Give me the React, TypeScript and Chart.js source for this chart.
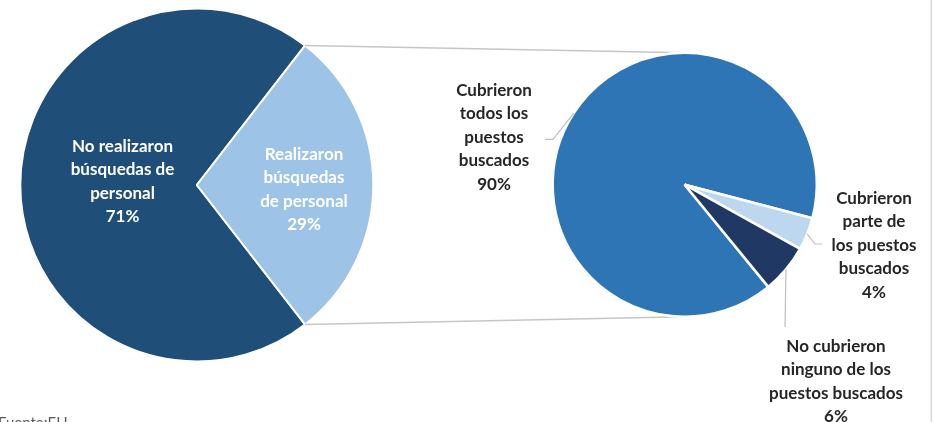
import React, { useEffect, useRef } from "react";
import { Chart, registerables } from "chart.js";

Chart.register(...registerables);

// ---- data ----
const mainCategories = ["No realizaron búsquedas de personal", "Realizaron búsquedas de personal"];
const mainValues = [71, 29];
const mainLabelLines = [
  ["No realizaron", "búsquedas de", "personal"],
  ["Realizaron", "búsquedas", "de personal"],
];
const subCategories = [
  "Cubrieron todos los puestos buscados",
  "Cubrieron parte de los puestos buscados",
  "No cubrieron ninguno de los puestos buscados",
];
const subValues = [90, 4, 6];
const subLabelLines = [
  ["Cubrieron", "todos los", "puestos", "buscados"],
  ["Cubrieron", "parte de", "los puestos", "buscados"],
  ["No cubrieron", "ninguno de los", "puestos buscados"],
];
const sourceText = "Fuente:EH";

// ---- styles / layout ----
const W = 934;
const H = 422;
const mainColors = ["#1F4E79", "#9DC3E6"];
const subColors = ["#2E75B6", "#BDD7EE", "#1F3864"];
const FONT = "bold 17px Lato, 'Open Sans', sans-serif";
const LINE_H = 23.5;
const mainLabelPos = [
  { x: 122.5, y: 151.5 },
  { x: 304, y: 159.5 },
];
const subLabelPos = [
  { x: 494, y: 95.5 },
  { x: 874, y: 203.5 },
  { x: 836, y: 351.7 },
];
// leader elbows and ends
const leaders = [
  [{ x: 553, y: 139.3 }, { x: 545, y: 139.3 }],
  [{ x: 815, y: 244 }, { x: 822, y: 244 }],
  [{ x: 785, y: 327 }],
];

function drawLines(ctx: CanvasRenderingContext2D, lines: string[], cx: number, baseY: number, color: string) {
  ctx.save();
  ctx.font = FONT;
  ctx.fillStyle = color;
  ctx.textAlign = "center";
  ctx.textBaseline = "alphabetic";
  lines.forEach((t, i) => ctx.fillText(t, cx, baseY + i * LINE_H));
  ctx.restore();
}

export default function App() {
  const c1 = useRef<HTMLCanvasElement>(null);
  const c2 = useRef<HTMLCanvasElement>(null);

  useEffect(() => {
    document.body.style.margin = "0";
    let mainChart: Chart | null = null;

    const mainLabelsPlugin = {
      id: "mainLabels",
      afterDraw(chart: any) {
        const ctx = chart.ctx;
        mainValues.forEach((v, i) => {
          const p = mainLabelPos[i];
          drawLines(ctx, [...mainLabelLines[i], `${v}%`], p.x, p.y, "#ffffff");
        });
      },
    };

    mainChart = new Chart(c1.current!, {
      type: "pie",
      data: {
        labels: mainCategories,
        datasets: [
          {
            data: mainValues,
            backgroundColor: mainColors,
            borderColor: "#ffffff",
            borderWidth: 2,
            hoverOffset: 0,
          },
        ],
      },
      options: {
        responsive: false,
        animation: false,
        rotation: 142.2,
        radius: 176.5,
        layout: { padding: { left: 0, top: 0, right: W - 2 * 196.8, bottom: H - 370 } },
        plugins: { legend: { display: false }, tooltip: { enabled: false } },
        events: [],
      } as any,
      plugins: [mainLabelsPlugin],
    });

    const subPlugin = {
      id: "subLabels",
      beforeDraw(chart: any) {
        const ctx: CanvasRenderingContext2D = chart.ctx;
        const mArc: any = mainChart!.getDatasetMeta(0).data[1];
        const sArc: any = chart.getDatasetMeta(0).data[0];
        if (!mArc || !sArc) return;
        const r1 = mArc.outerRadius;
        const p1 = { x: mArc.x + r1 * Math.cos(mArc.startAngle), y: mArc.y + r1 * Math.sin(mArc.startAngle) };
        const p2 = { x: mArc.x + r1 * Math.cos(mArc.endAngle), y: mArc.y + r1 * Math.sin(mArc.endAngle) };
        const r2 = sArc.outerRadius;
        ctx.save();
        ctx.strokeStyle = "#c6c6c6";
        ctx.lineWidth = 1.5;
        ctx.beginPath();
        ctx.moveTo(p1.x, p1.y);
        ctx.lineTo(sArc.x, sArc.y - r2);
        ctx.moveTo(p2.x, p2.y);
        ctx.lineTo(sArc.x, sArc.y + r2);
        ctx.stroke();
        ctx.strokeStyle = "#d9d9d9";
        ctx.lineWidth = 1.5;
        ctx.beginPath();
        ctx.moveTo(931.3, 0);
        ctx.lineTo(931.3, H);
        ctx.stroke();
        ctx.restore();
      },
      afterDraw(chart: any) {
        const ctx: CanvasRenderingContext2D = chart.ctx;
        const arcs: any[] = chart.getDatasetMeta(0).data;
        ctx.save();
        ctx.strokeStyle = "#bfbfbf";
        ctx.lineWidth = 1.2;
        arcs.forEach((a, i) => {
          const mid = (a.startAngle + a.endAngle) / 2;
          const sx = a.x + a.outerRadius * Math.cos(mid);
          const sy = a.y + a.outerRadius * Math.sin(mid);
          ctx.beginPath();
          ctx.moveTo(sx, sy);
          leaders[i].forEach((p) => ctx.lineTo(p.x, p.y));
          ctx.stroke();
        });
        ctx.restore();
        subValues.forEach((v, i) => {
          const p = subLabelPos[i];
          drawLines(ctx, [...subLabelLines[i], `${v}%`], p.x, p.y, "#262626");
        });
        ctx.save();
        ctx.font = "15px Lato, 'Liberation Sans', sans-serif";
        ctx.fillStyle = "#595959";
        ctx.textAlign = "left";
        ctx.textBaseline = "alphabetic";
        ctx.fillText(sourceText, -2, 428);
        ctx.restore();
      },
    };

    const subChart = new Chart(c2.current!, {
      type: "pie",
      data: {
        labels: subCategories,
        datasets: [
          {
            data: subValues,
            backgroundColor: subColors,
            borderColor: "#ffffff",
            borderWidth: 2.5,
            hoverOffset: 0,
          },
        ],
      },
      options: {
        responsive: false,
        animation: false,
        rotation: 140.7,
        radius: 132,
        layout: { padding: { left: 2 * 684.7 - W, top: 0, right: 0, bottom: H - 2 * 184.7 } },
        plugins: { legend: { display: false }, tooltip: { enabled: false } },
        events: [],
      } as any,
      plugins: [subPlugin],
    });

    return () => {
      subChart.destroy();
      mainChart?.destroy();
    };
  }, []);

  return (
    <div style={{ position: "relative", width: W, height: H, background: "#ffffff", overflow: "hidden" }}>
      <canvas ref={c1} width={W} height={H} style={{ position: "absolute", left: 0, top: 0 }} />
      <canvas ref={c2} width={W} height={H} style={{ position: "absolute", left: 0, top: 0 }} />
    </div>
  );
}
